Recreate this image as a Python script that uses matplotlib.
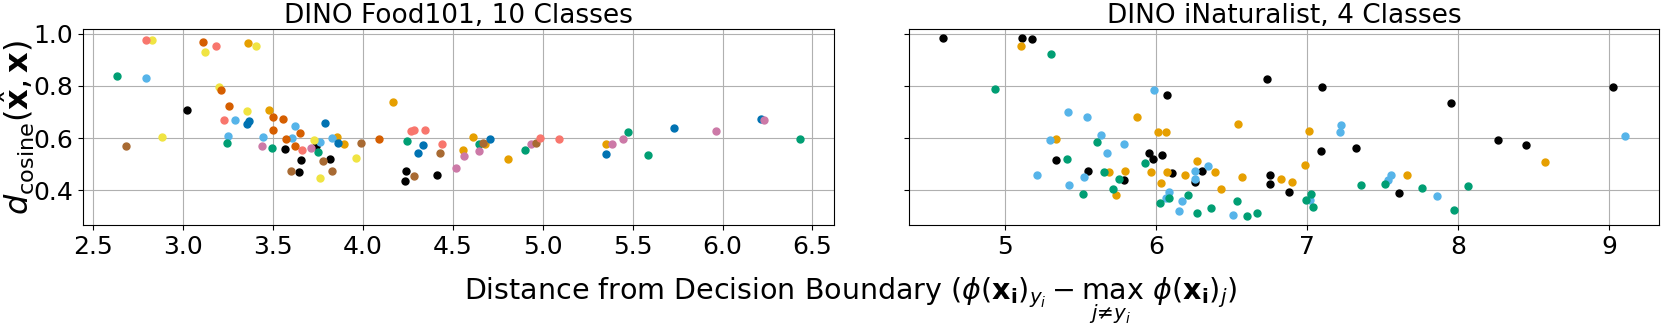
import matplotlib.pyplot as plt
from matplotlib.ticker import MultipleLocator

# Okabe-Ito style colours, plus brown and salmon for the 10-class plot
colors = ["#000000", "#E69F00", "#56B4E9", "#009E73", "#F0E442",
          "#0072B2", "#D55E00", "#CC79A7", "#A86A32", "#F8766D"]

# DINO Food101, 10 classes: (margin, cosine distance) per class
food_x = [
    [3.020, 3.569, 3.658, 3.647, 3.738, 3.816, 4.241, 4.233, 4.411],
    [3.361, 3.480, 3.859, 3.894, 4.165, 4.559, 4.615, 4.680, 4.806, 5.352],
    [2.793, 3.289, 3.252, 3.621, 3.447, 3.606, 3.760, 3.831],
    [2.634, 3.246, 3.493, 3.753, 4.244, 4.648, 4.900, 5.472, 5.585, 6.428],
    [2.830, 2.886, 3.125, 3.200, 3.408, 3.357, 3.727, 3.762, 3.961],
    [3.365, 3.357, 3.790, 3.860, 4.337, 4.306, 4.707, 5.350, 5.730, 6.215],
    [3.112, 3.211, 3.257, 3.502, 3.554, 3.502, 3.575, 3.651, 3.623, 4.090],
    [3.441, 3.712, 4.563, 4.519, 4.644, 4.937, 5.385, 5.444, 5.965, 6.230],
    [2.682, 3.599, 3.781, 3.827, 3.990, 4.283, 4.430, 4.667, 4.963],
    [2.793, 3.181, 3.228, 3.664, 4.269, 4.283, 4.346, 4.439, 4.983, 5.093],
]
food_y = [
    [0.706, 0.558, 0.517, 0.470, 0.571, 0.519, 0.475, 0.435, 0.457],
    [0.963, 0.706, 0.605, 0.576, 0.739, 0.554, 0.604, 0.577, 0.521, 0.576],
    [0.830, 0.670, 0.609, 0.646, 0.603, 0.600, 0.583, 0.599],
    [0.838, 0.582, 0.563, 0.545, 0.589, 0.577, 0.553, 0.623, 0.536, 0.595],
    [0.974, 0.604, 0.930, 0.796, 0.954, 0.704, 0.591, 0.447, 0.522],
    [0.665, 0.654, 0.656, 0.582, 0.573, 0.541, 0.595, 0.539, 0.640, 0.674],
    [0.966, 0.783, 0.724, 0.682, 0.673, 0.631, 0.598, 0.618, 0.571, 0.598],
    [0.570, 0.563, 0.530, 0.487, 0.552, 0.577, 0.577, 0.596, 0.627, 0.669],
    [0.568, 0.474, 0.513, 0.475, 0.582, 0.455, 0.543, 0.580, 0.580],
    [0.974, 0.954, 0.668, 0.556, 0.627, 0.631, 0.631, 0.579, 0.599, 0.598],
]

# DINO iNaturalist, 4 classes
inat_x = [
    [4.589, 5.110, 5.181, 6.075, 5.956, 6.042, 5.978, 5.336, 5.547, 6.108,
     6.305, 5.786, 6.256, 6.735, 7.102, 6.753, 6.757, 6.881, 7.093, 7.327,
     7.607, 7.951, 8.267, 8.450, 9.026],
    [5.106, 5.876, 6.011, 6.064, 5.336, 6.274, 5.687, 5.797, 5.969, 6.071,
     6.192, 6.393, 6.035, 6.570, 6.430, 5.737, 6.545, 6.830, 6.903, 7.013,
     6.987, 7.664, 8.576],
    [5.985, 5.415, 5.545, 5.636, 5.298, 5.792, 5.678, 5.210, 6.260, 6.347,
     5.523, 5.422, 6.256, 6.086, 6.066, 6.172, 6.152, 6.510, 7.223, 7.219,
     7.020, 7.539, 7.554, 7.859, 9.108],
    [5.307, 4.932, 5.611, 5.413, 5.929, 5.653, 5.757, 5.713, 6.088, 5.517,
     6.212, 6.026, 6.536, 6.272, 6.366, 6.600, 6.671, 7.355, 7.024, 6.991,
     7.040, 7.517, 7.759, 7.976, 8.068],
]
inat_y = [
    [0.983, 0.981, 0.980, 0.765, 0.541, 0.536, 0.519, 0.517, 0.474, 0.465,
     0.474, 0.439, 0.433, 0.824, 0.797, 0.458, 0.423, 0.394, 0.551, 0.562,
     0.388, 0.734, 0.592, 0.573, 0.794],
    [0.954, 0.682, 0.622, 0.622, 0.595, 0.513, 0.470, 0.474, 0.470, 0.470,
     0.460, 0.469, 0.429, 0.451, 0.404, 0.383, 0.652, 0.442, 0.432, 0.626,
     0.498, 0.457, 0.510],
    [0.784, 0.699, 0.681, 0.613, 0.591, 0.577, 0.541, 0.460, 0.473, 0.492,
     0.452, 0.419, 0.443, 0.395, 0.372, 0.360, 0.321, 0.305, 0.649, 0.622,
     0.364, 0.441, 0.460, 0.377, 0.609],
    [0.921, 0.787, 0.584, 0.521, 0.504, 0.471, 0.443, 0.405, 0.369, 0.387,
     0.382, 0.352, 0.359, 0.313, 0.331, 0.301, 0.312, 0.421, 0.387, 0.364,
     0.337, 0.425, 0.410, 0.326, 0.417],
]

titles = ["DINO Food101, 10 Classes", "DINO iNaturalist, 4 Classes"]

plt.rcParams["font.size"] = 18

fig, axes = plt.subplots(1, 2, figsize=(16.61, 3.30), dpi=100, sharey=True)
fig.subplots_adjust(left=0.05, right=0.999, top=0.912, bottom=0.318, wspace=0.1)

for ax, xs, ys, title in zip(axes, [food_x, inat_x], [food_y, inat_y], titles):
    for i in range(len(xs)):
        ax.scatter(xs[i], ys[i], s=25, color=colors[i], zorder=3)
    ax.set_title(title, fontsize=19, pad=4)
    ax.grid(True)

axes[0].yaxis.set_major_locator(MultipleLocator(0.2))
axes[0].set_ylabel(r"$d_{\mathrm{cosine}}(\hat{\mathbf{x}}, \mathbf{x})$", fontsize=23)
axes[0].yaxis.set_label_coords(-0.061, 0.5)
fig.supxlabel(r"Distance from Decision Boundary $(\phi(\mathbf{x_i})_{y_i} - \max_{j\neq y_i}\ \phi(\mathbf{x_i})_j)$",
              fontsize=20.5, x=0.512, y=0.012)

fig.savefig("out.png", dpi=100)
